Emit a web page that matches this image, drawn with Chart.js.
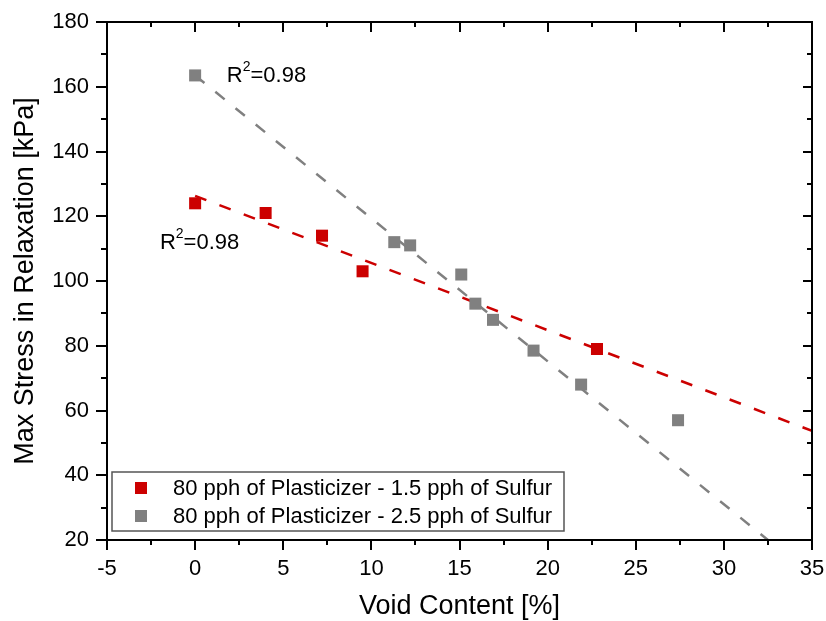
<!DOCTYPE html>
<html>

<head>
    <title>Max Stress vs Void Content</title>
    <script src="https://cdn.jsdelivr.net/npm/chart.js"></script>
    <style>
        body { margin: 0; background: #fff; }
        #wrap { width: 826px; height: 621px; }
    </style>
</head>

<body>
    <div id="wrap"><canvas id="stressChart" width="826" height="621"></canvas></div>

    <script>
        // Series
        const seriesNames = ['80 pph of Plasticizer - 1.5 pph of Sulfur', '80 pph of Plasticizer - 2.5 pph of Sulfur'];
        const voidLow = [0, 4.0, 7.2, 9.5, 22.8];
        const stressLow = [124, 121, 114, 103, 79];
        const voidHigh = [0, 11.3, 12.2, 15.1, 15.9, 16.9, 19.2, 21.9, 27.4];
        const stressHigh = [163.5, 112, 111, 102, 93, 88, 78.5, 68, 57];

        // End points of the dashed fit lines
        const fitLowX = [0, 35];
        const fitLowY = [126.3, 53.7];
        const fitHighX = [0, 32.5];
        const fitHighY = [163.5, 20];

        const r2Labels = ['R', 'R'];
        const r2Values = ['=0.98', '=0.98'];

        const RED = '#CC0000';
        const GRAY = '#808080';
        const FONT = "'Liberation Sans', Arial, sans-serif";

        const toPoints = (xs, ys) => xs.map((x, i) => ({ x: x, y: ys[i] }));

        // frame + ticks on all four sides, minor ticks half-way
        const frameTicks = {
            id: 'frameTicks',
            afterDraw(chart) {
                const { ctx, chartArea: a, scales } = chart;
                const xs = scales.x, ys = scales.y;
                ctx.save();
                ctx.strokeStyle = '#000';
                ctx.lineWidth = 2;
                ctx.strokeRect(a.left, a.top, a.right - a.left, a.bottom - a.top);
                const xt = xs.ticks.map(t => t.value);
                const yt = ys.ticks.map(t => t.value);
                const mids = arr => arr.slice(1).map((v, i) => (v + arr[i]) / 2);
                ctx.beginPath();
                xt.forEach(v => {
                    const p = Math.round(xs.getPixelForValue(v));
                    ctx.moveTo(p, a.bottom); ctx.lineTo(p, a.bottom + 10);
                    ctx.moveTo(p, a.top); ctx.lineTo(p, a.top + 10);
                });
                mids(xt).forEach(v => {
                    const p = Math.round(xs.getPixelForValue(v));
                    ctx.moveTo(p, a.bottom); ctx.lineTo(p, a.bottom + 5);
                    ctx.moveTo(p, a.top); ctx.lineTo(p, a.top + 5);
                });
                yt.forEach(v => {
                    const p = Math.round(ys.getPixelForValue(v));
                    ctx.moveTo(a.left, p); ctx.lineTo(a.left - 11, p);
                    ctx.moveTo(a.right, p); ctx.lineTo(a.right - 9, p);
                });
                mids(yt).forEach(v => {
                    const p = Math.round(ys.getPixelForValue(v));
                    ctx.moveTo(a.left, p); ctx.lineTo(a.left - 6, p);
                    ctx.moveTo(a.right, p); ctx.lineTo(a.right - 5, p);
                });
                ctx.stroke();
                ctx.restore();
            }
        };

        // R^2 notes, placed in data coordinates
        const r2Pos = [{ x: 1.8, y: 163.3 }, { x: -2.0, y: 111.7 }];
        const r2Notes = {
            id: 'r2Notes',
            afterDatasetsDraw(chart) {
                const { ctx, scales } = chart;
                ctx.save();
                ctx.fillStyle = '#000';
                ctx.textBaseline = 'middle';
                r2Pos.forEach((pos, i) => {
                    let px = scales.x.getPixelForValue(pos.x);
                    const py = scales.y.getPixelForValue(pos.y);
                    ctx.font = '22px ' + FONT;
                    ctx.fillText(r2Labels[i], px, py);
                    px += ctx.measureText(r2Labels[i]).width;
                    ctx.font = '14px ' + FONT;
                    ctx.fillText('2', px, py - 9);
                    px += ctx.measureText('2').width;
                    ctx.font = '22px ' + FONT;
                    ctx.fillText(r2Values[i], px, py);
                });
                ctx.restore();
            }
        };

        // boxed legend inside the lower left of the plot
        const boxLegend = {
            id: 'boxLegend',
            afterDraw(chart) {
                const { ctx, chartArea: a } = chart;
                const left = a.left + 5, top = a.bottom - 68, w = 452, h = 59;
                ctx.save();
                ctx.fillStyle = '#fff';
                ctx.fillRect(left, top, w, h);
                ctx.strokeStyle = '#555';
                ctx.lineWidth = 1.5;
                ctx.strokeRect(left, top, w, h);
                ctx.font = '22px ' + FONT;
                ctx.textBaseline = 'middle';
                [0, 1].forEach(i => {
                    const ds = chart.data.datasets[i];
                    const cy = top + 16 + i * 28;
                    ctx.fillStyle = ds.backgroundColor;
                    ctx.fillRect(left + 23, cy - 6, 12, 12);
                    ctx.fillStyle = '#000';
                    ctx.fillText(ds.label, left + 61, cy + 1);
                });
                ctx.restore();
            }
        };

        const ctx = document.getElementById('stressChart').getContext('2d');
        const stressChart = new Chart(ctx, {
            type: 'scatter',
            data: {
                datasets: [
                    {
                        label: seriesNames[0],
                        data: toPoints(voidLow, stressLow),
                        backgroundColor: RED,
                        borderColor: RED,
                        pointStyle: 'rect',
                        pointRadius: 8.5,
                        borderWidth: 0,
                        order: 1
                    },
                    {
                        label: seriesNames[1],
                        data: toPoints(voidHigh, stressHigh),
                        backgroundColor: GRAY,
                        borderColor: GRAY,
                        pointStyle: 'rect',
                        pointRadius: 8.5,
                        borderWidth: 0,
                        order: 1
                    },
                    {
                        label: 'fit 1.5',
                        type: 'line',
                        data: toPoints(fitLowX, fitLowY),
                        borderColor: RED,
                        borderWidth: 2.5,
                        borderDash: [12, 14],
                        pointRadius: 0,
                        fill: false,
                        order: 2
                    },
                    {
                        label: 'fit 2.5',
                        type: 'line',
                        data: toPoints(fitHighX, fitHighY),
                        borderColor: GRAY,
                        borderWidth: 2.5,
                        borderDash: [12, 14],
                        pointRadius: 0,
                        fill: false,
                        order: 2
                    }
                ]
            },
            options: {
                responsive: false,
                animation: false,
                layout: { padding: { top: 22, right: 14, left: 0, bottom: 0 } },
                plugins: {
                    legend: { display: false },
                    tooltip: { enabled: false }
                },
                scales: {
                    x: {
                        type: 'linear',
                        min: -5,
                        max: 35,
                        ticks: { stepSize: 5, color: '#000', font: { family: FONT, size: 22 }, padding: 8, maxRotation: 0 },
                        grid: { display: false },
                        border: { display: false },
                        title: { display: true, text: 'Void Content [%]', color: '#000', font: { family: FONT, size: 27 }, padding: { top: 0, bottom: -2 } },
                        afterFit(scale) {
                            scale.height = 81;
                            scale.paddingLeft = 0;
                            scale.paddingRight = 0;
                        }
                    },
                    y: {
                        type: 'linear',
                        min: 20,
                        max: 180,
                        ticks: { stepSize: 20, color: '#000', font: { family: FONT, size: 22 }, padding: 10 },
                        grid: { display: false },
                        border: { display: false },
                        title: { display: true, text: 'Max Stress in Relaxation [kPa]', color: '#000', font: { family: FONT, size: 27 }, padding: { top: 9, bottom: 0 } },
                        afterFit(scale) {
                            scale.width = 107;
                            scale.paddingTop = 0;
                            scale.paddingBottom = 0;
                        }
                    }
                }
            },
            plugins: [frameTicks, r2Notes, boxLegend]
        });
    </script>
</body>

</html>
